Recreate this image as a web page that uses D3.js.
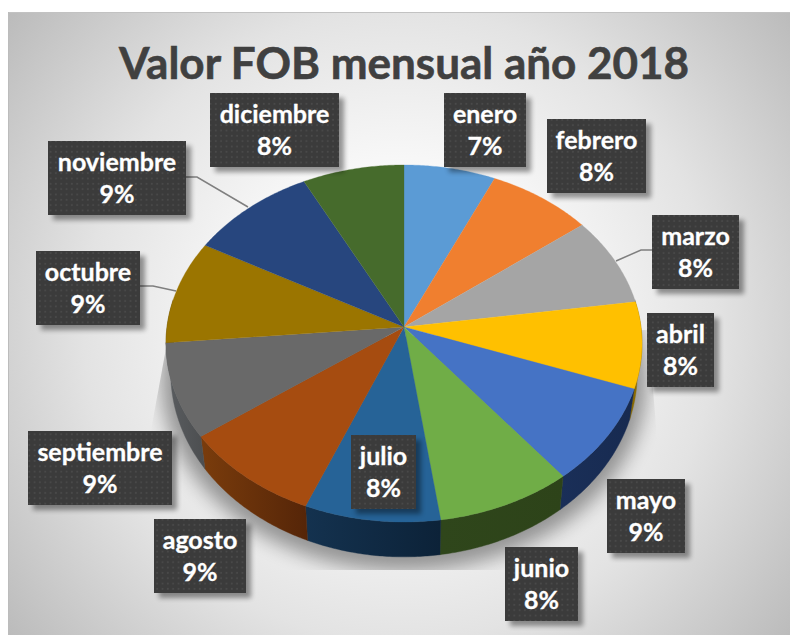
<!DOCTYPE html>
<html><head><meta charset="utf-8">
<script src="https://cdn.jsdelivr.net/npm/d3@7"></script>
<style>html,body{margin:0;padding:0;background:#fff}svg{display:block}</style>
</head><body><div id="chart"></div>
<script>
const title = "Valor FOB mensual año 2018";
const months = ["enero","febrero","marzo","abril","mayo","junio","julio","agosto","septiembre","octubre","noviembre","diciembre"];
const shares = [6.8,7.8,8.1,7.8,8.8,8.45,8.45,8.85,8.55,9.4,9.45,7.55];

const topColors = ["#5b9bd5","#f07f2f","#a5a5a5","#ffc000","#4573c5","#70ad47","#266397","#a64c10","#696969","#9b7500","#27467e","#466b2c"];
const wallLeft  = ["#2a4a66","#6a3510","#4a4a4a","#8a6a00","#1a2f58","#2f461b","#14324f","#7a3c0c","#5a5d60","#5a4500","#14264a","#26391a"];
const wallRight = ["#2a4a66","#6a3510","#4a4a4a","#8a6a00","#172a50","#2d4319","#0c2238","#552508","#4c4e50","#5a4500","#14264a","#26391a"];

// label boxes: [x0, x1, y0]
const boxLayout = [[444,526,93],[547,646,119],[652,739,215],[647,714,313],[607,685,479],[505,578,547],
                   [351,416,435],[154,246,519],[28,172,431],[36,140,251],[48,186,141],[210,339,93]];
const boxHeight = 74;
const leaders = {2:[[652,250],[641,250],[616,261]], 9:[[140,286],[153,286],[176,291]], 10:[[186,177],[197,177],[248,207]]};

const W = 790, H = 635;
const svg = d3.select("#chart").append("svg").attr("width",W).attr("height",H);
const defs = svg.append("defs");

const bg = defs.append("radialGradient").attr("id","bg").attr("gradientUnits","userSpaceOnUse")
  .attr("cx",400).attr("cy",325).attr("r",510);
[[0,"#ffffff"],[.3,"#f9f9f9"],[.62,"#e3e3e3"],[1,"#b9b9b9"]].forEach(s=>bg.append("stop").attr("offset",s[0]).attr("stop-color",s[1]));

svg.append("rect").attr("x",8).attr("y",12).attr("width",W-8).attr("height",H-12).attr("fill","url(#bg)");
svg.append("line").attr("x1",8).attr("x2",W).attr("y1",12.5).attr("y2",12.5).attr("stroke","#c2c2c2");
svg.append("line").attr("x1",8.5).attr("x2",8.5).attr("y1",12).attr("y2",H).attr("stroke","#bcbcbc");

// perspective projection of the unit disc
const cx = 404, cy = 327, R = 237, S = 177, k = 0.0924;
const sx = d3.scaleLinear().domain([-1,1]).range([cx-R,cx+R]);
const sy = d3.scaleLinear().domain([-1,1]).range([cy+S,cy-S]);
const topPt = a => { const u=Math.sin(a), v=Math.cos(a), w=1+k*v; return [sx(u/w), sy(v/w)]; };
const lowPt = a => { const p=topPt(a); return [cx+(p[0]-cx)*0.98, cy+29+(p[1]-cy)*1.03]; };
const line = d3.line();
const arcPts = (f,a0,a1) => { const n=Math.max(2,Math.ceil((a1-a0)/0.01)); return d3.range(n+1).map(i=>f(a0+(a1-a0)*i/n)); };

const slices = d3.pie().sort(null).startAngle(0).endAngle(2*Math.PI)(shares);

// shadow
const blur = defs.append("filter").attr("id","blur").attr("x","-20%").attr("y","-20%").attr("width","140%").attr("height","140%");
blur.append("feGaussianBlur").attr("stdDeviation",9);
defs.append("clipPath").attr("id","shClip").append("polygon")
  .attr("points","167,343 151,430 151,570 657,570 657,437 648,330");
svg.append("g").attr("clip-path","url(#shClip)")
  .append("path").attr("d",line(arcPts(lowPt,0,2*Math.PI))+"Z")
  .attr("transform","translate(0,6) translate(403,360) scale(1.04) translate(-403,-360)")
  .attr("fill","#000").attr("opacity",.38).attr("filter","url(#blur)");

// leader lines
Object.values(leaders).forEach(l=>svg.append("path").attr("d",line(l)).attr("fill","none").attr("stroke","#7f7f7f").attr("stroke-width",1.5));

// walls
const walls = svg.append("g");
slices.forEach((d,i)=>{
  const a0 = Math.max(d.startAngle, Math.PI*.45), a1 = Math.min(d.endAngle, Math.PI*1.55);
  if (a1<=a0) return;
  const A = arcPts(topPt,a0,a1), B = arcPts(lowPt,a0,a1).reverse();
  const xs = A.concat(B).map(p=>p[0]);
  const g = defs.append("linearGradient").attr("id","w"+i).attr("gradientUnits","userSpaceOnUse")
    .attr("x1",d3.min(xs)).attr("x2",d3.max(xs)).attr("y1",0).attr("y2",0);
  g.append("stop").attr("offset",0).attr("stop-color",wallLeft[i]);
  g.append("stop").attr("offset",1).attr("stop-color",wallRight[i]);
  walls.append("path").attr("d",line(A.concat(B))+"Z").attr("fill",`url(#w${i})`).attr("stroke",`url(#w${i})`).attr("stroke-width",.4);
});

// top face
svg.append("g").selectAll("path").data(slices).join("path")
  .attr("d",d=>line([[cx,cy]].concat(arcPts(topPt,d.startAngle,d.endAngle)))+"Z")
  .attr("fill",(d,i)=>topColors[i]).attr("stroke",(d,i)=>topColors[i]).attr("stroke-width",.3);

// title
svg.append("text").attr("x",404).attr("y",79).attr("text-anchor","middle")
  .attr("font-family","Lato").attr("font-weight",700).attr("font-size",44).attr("fill","#404040")
  .attr("stroke","#404040").attr("stroke-width",.6).text(title);

// labels
const pat = defs.append("pattern").attr("id","dots").attr("patternUnits","userSpaceOnUse").attr("width",5.33).attr("height",5.33);
pat.append("rect").attr("width",5.33).attr("height",5.33).attr("fill","#3b3b3b");
pat.append("circle").attr("cx",2.6).attr("cy",2.6).attr("r",1).attr("fill","#4a4a4a");
const bs = defs.append("filter").attr("id","bs").attr("x","-20%").attr("y","-20%").attr("width","150%").attr("height","150%");
bs.append("feGaussianBlur").attr("stdDeviation",2.5);

const fmt = d3.format(".0f");
const labels = svg.append("g").selectAll("g").data(slices).join("g");
labels.append("rect").attr("x",(d,i)=>boxLayout[i][0]+5).attr("y",(d,i)=>boxLayout[i][2]+5)
  .attr("width",(d,i)=>boxLayout[i][1]-boxLayout[i][0]).attr("height",boxHeight)
  .attr("fill","#000").attr("opacity",.4).attr("filter","url(#bs)");
labels.append("rect").attr("x",(d,i)=>boxLayout[i][0]).attr("y",(d,i)=>boxLayout[i][2])
  .attr("width",(d,i)=>boxLayout[i][1]-boxLayout[i][0]).attr("height",boxHeight).attr("fill","url(#dots)");
const lt = labels.append("text").attr("text-anchor","middle").attr("font-family","Lato").attr("font-weight",700)
  .attr("font-size",25).attr("fill","#fff").attr("stroke","#fff").attr("stroke-width",.3);
lt.append("tspan").attr("x",(d,i)=>(boxLayout[i][0]+boxLayout[i][1])/2).attr("y",(d,i)=>boxLayout[i][2]+30).text((d,i)=>months[i]);
lt.append("tspan").attr("x",(d,i)=>(boxLayout[i][0]+boxLayout[i][1])/2).attr("y",(d,i)=>boxLayout[i][2]+62).text((d,i)=>fmt(d.value)+"%");
</script></body></html>
